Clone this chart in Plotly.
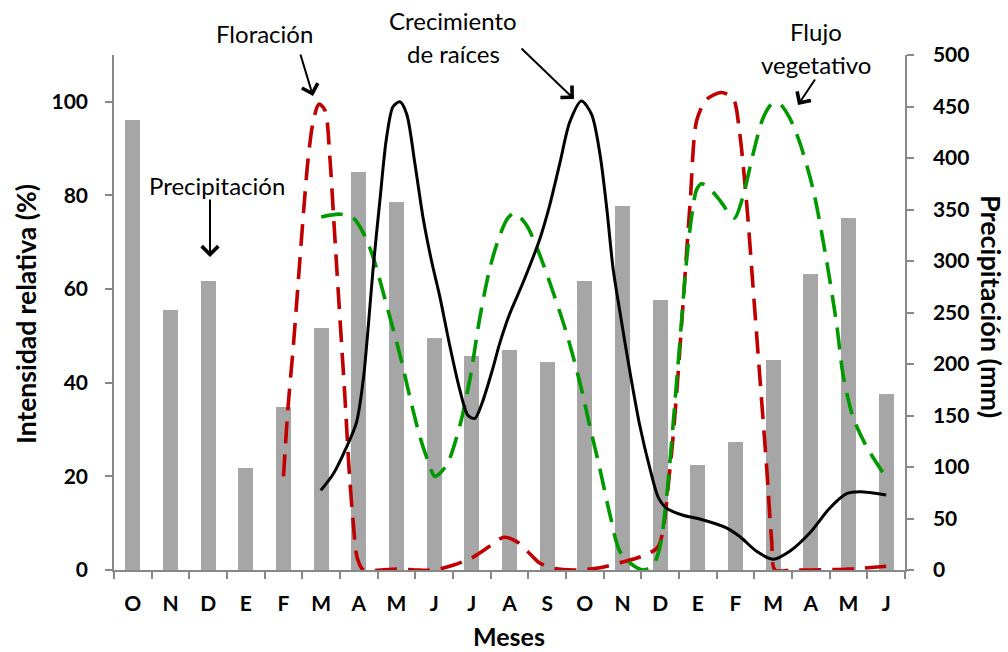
import plotly.graph_objects as go

# Months (October to June of the following-following year)
months = ["O", "N", "D", "E", "F", "M", "A", "M", "J", "J", "A", "S",
          "O", "N", "D", "E", "F", "M", "A", "M", "J"]

# Monthly rainfall (mm)
precip_mm = [437, 252, 281, 99, 158, 235, 386, 357, 225, 208, 214, 202,
             281, 353, 262, 102, 124, 204, 287, 342, 171]

# Relative intensity (%) of flowering, sampled along the month axis
flor_x = [4.0, 4.12, 4.26, 4.39, 4.52, 4.65, 4.79, 4.94, 5.1, 5.23, 5.32, 5.42,
          5.51, 5.63, 5.74, 5.85, 5.96, 6.12, 6.6, 7.0, 7.5, 8.0, 8.5, 9.0,
          9.5, 9.85, 10.2, 10.5, 10.8, 11.2, 11.8, 12.4, 13.0, 13.6, 13.95,
          14.26, 14.43, 14.6, 14.8, 14.97, 15.23, 15.63, 15.94, 16.1, 16.29,
          16.47, 16.65, 16.83, 16.96, 17.05, 17.5, 18.0, 19.0, 20.0]
flor_y = [20, 34.7, 47.7, 61.4, 75.2, 87.5, 95.9, 99.5, 98.2, 88.2, 76.7, 63.7,
          52.3, 37, 21.7, 10.2, 2.5, 0, 0, 0.2, 0, 0, 1, 2.6,
          5.2, 7, 6, 3.8, 1.5, 0.3, 0, 0.5, 1.7, 3.2, 5.0,
          21.6, 37, 56, 79, 96, 100.5, 102, 100.7, 94, 79,
          60, 40.8, 21.6, 6.3, 0, 0, 0, 0.2, 0.8]

# Relative intensity (%) of root growth
raiz_x = [4.99, 5.32, 5.67, 5.94, 6.12, 6.25, 6.38, 6.56, 6.73, 6.91, 7.09, 7.27,
          7.49, 7.71, 7.93, 8.15, 8.42, 8.68, 8.9, 9.08, 9.26, 9.53, 9.74, 10.0,
          10.36, 10.8, 11.07, 11.34, 11.6, 11.91, 12.18, 12.4, 12.58, 12.75,
          12.93, 13.2, 13.46, 13.73, 13.95, 14.17, 14.61, 15.05, 15.76, 16.12,
          16.56, 17.0, 17.44, 17.97, 18.5, 18.95, 19.3, 20.0]
raiz_y = [17, 20.5, 26.2, 31.6, 40.8, 52, 64.5, 79, 92, 99, 100, 97.4,
          86.7, 75, 66, 58.4, 47.7, 38.5, 33, 32.4, 35.4, 42.3, 48.4, 54.6,
          61.4, 70.6, 78, 87, 95.7, 100.2, 97.3, 88.9, 77.4, 64.4,
          55.2, 42.2, 30.8, 21.6, 15.5, 13.2, 11.7, 10.9, 9, 7.1,
          4, 2.3, 4, 7.9, 13.2, 16.3, 16.7, 16]

# Relative intensity (%) of vegetative flushes
veg_x = [5.0, 5.5, 5.85, 6.12, 6.38, 6.73, 7.09, 7.4, 7.62, 7.84, 8.02, 8.33,
         8.68, 8.95, 9.21, 9.48, 9.74, 9.96, 10.14, 10.45, 10.72, 11.07, 11.51,
         11.87, 12.13, 12.4, 12.67, 12.93, 13.28, 13.55, 13.81, 13.99, 14.17,
         14.34, 14.52, 14.7, 14.83, 14.97, 15.1, 15.33, 15.58, 15.85, 15.98,
         16.2, 16.47, 16.73, 16.96, 17.18, 17.44, 17.71, 18.06, 18.42, 18.69,
         18.86, 19.13, 19.49, 19.98]
veg_y = [75.4, 76, 75.2, 72, 66.8, 56.8, 46, 35.4, 28.5, 23.2, 20, 22.4,
         30.8, 40.8, 53.8, 64.5, 71.4, 75.2, 76.2, 73.7, 69, 61.4, 50.7,
         40, 30.8, 21.6, 11.7, 4, 1, 0, 1, 4.8, 15.5,
         30.8, 48.4, 66, 75.2, 81.3, 82.5, 81.3, 79, 76, 75.2,
         79.8, 89, 96.5, 99.5, 99.5, 96.5, 91.2, 81.3, 66, 52.2,
         41.5, 32.4, 26.2, 20]

FONT = "Lato"
W, H = 1008, 652
ML, MR, MT, MB = 114, 103, 55, 82
PW, PH = W - ML - MR, H - MT - MB


def px(xp, yp):
    """Pixel position on the page -> paper coordinates."""
    return (xp - ML) / PW, (H - MB - yp) / PH


fig = go.Figure()

fig.add_trace(go.Bar(
    x=list(range(len(months))), y=precip_mm, width=0.39,
    marker=dict(color="#A6A6A6", line=dict(width=0)),
    yaxis="y", name="Precipitación", showlegend=False,
))

fig.add_trace(go.Scatter(
    x=flor_x, y=flor_y, yaxis="y2", mode="lines", showlegend=False,
    line=dict(color="#C00000", width=3.6, dash="22px,11px", shape="spline", smoothing=0.8),
))
fig.add_trace(go.Scatter(
    x=veg_x, y=veg_y, yaxis="y2", mode="lines", showlegend=False,
    line=dict(color="#009900", width=3.6, dash="22px,11px", shape="spline", smoothing=0.8),
))
fig.add_trace(go.Scatter(
    x=raiz_x, y=raiz_y, yaxis="y2", mode="lines", showlegend=False,
    line=dict(color="#000000", width=3, shape="spline", smoothing=0.8),
))

axis_col = "#888888"
tick_font = dict(family=FONT, size=21, color="black", weight="bold")

fig.update_layout(
    width=W, height=H,
    margin=dict(l=ML, r=MR, t=MT, b=MB, pad=0),
    paper_bgcolor="white", plot_bgcolor="white",
    bargap=0,
    xaxis=dict(
        range=[-0.5, len(months) - 0.5],
        tickmode="array", tickvals=list(range(len(months))), ticktext=months,
        ticks="", tickfont=tick_font, ticklabelstandoff=14,
        showgrid=False, zeroline=False,
        showline=True, linecolor=axis_col, linewidth=1.5,
        minor=dict(tickmode="array",
                   tickvals=[i - 0.5 for i in range(len(months) + 1)],
                   ticks="outside", ticklen=7, tickcolor=axis_col, tickwidth=1.5,
                   showgrid=False),
    ),
    yaxis=dict(
        side="right", range=[0, 500], tickmode="linear", tick0=0, dtick=50,
        ticks="outside", ticklen=7, tickcolor=axis_col, tickwidth=1.5,
        tickfont=tick_font, ticklabelstandoff=15,
        showgrid=False, zeroline=False,
        showline=True, linecolor=axis_col, linewidth=1.5,
    ),
    yaxis2=dict(
        side="left", overlaying="y", range=[0, 110],
        tickmode="array", tickvals=[0, 20, 40, 60, 80, 100],
        ticks="outside", ticklen=7, tickcolor=axis_col, tickwidth=1.5,
        tickfont=tick_font, ticklabelstandoff=13,
        showgrid=False, zeroline=False,
        showline=True, linecolor=axis_col, linewidth=1.5,
    ),
)

annotations = []


def centered(text, xp, yp, font, angle=0):
    lx, ly = px(xp, yp)
    return dict(text=text, xref="paper", yref="paper", x=lx, y=ly,
                xanchor="center", yanchor="middle", textangle=angle,
                showarrow=False, font=font)


title_font = dict(family=FONT, size=25, color="black", weight="bold")

# axis titles
annotations.append(centered("Intensidad relativa (%)", 26, 314,
                            dict(title_font, size=26.5), -90))
annotations.append(centered("Precipitación (mm)", 992, 306,
                            dict(title_font, size=27), 90))
annotations.append(centered("Meses", 509, 636, title_font))

# labels for each curve
label_font = dict(family=FONT, size=24, color="black")
for txt, (xp, yp) in [("Floración", (264, 33)),
                      ("Precipitación", (217, 185)),
                      ("Crecimiento", (453, 21)),
                      ("de raíces", (453, 53)),
                      ("Flujo", (816, 31)),
                      ("vegetativo", (816, 64))]:
    annotations.append(centered(txt, xp, yp, label_font))

# pointer arrows: (tail px, tip px)
for (tx, ty), (hx, hy) in [((300, 53), (313, 96)),
                           ((210, 198), (210, 257)),
                           ((520, 47), (574, 99)),
                           ((816, 78), (798, 105))]:
    hxp, hyp = px(hx, hy)
    annotations.append(dict(text="", xref="paper", yref="paper", x=hxp, y=hyp,
                            ax=tx - hx, ay=ty - hy, axref="pixel", ayref="pixel",
                            showarrow=True, arrowhead=4, arrowsize=1.6,
                            arrowwidth=2, arrowcolor="black"))

fig.update_layout(annotations=annotations)

fig.write_html("out.html")
